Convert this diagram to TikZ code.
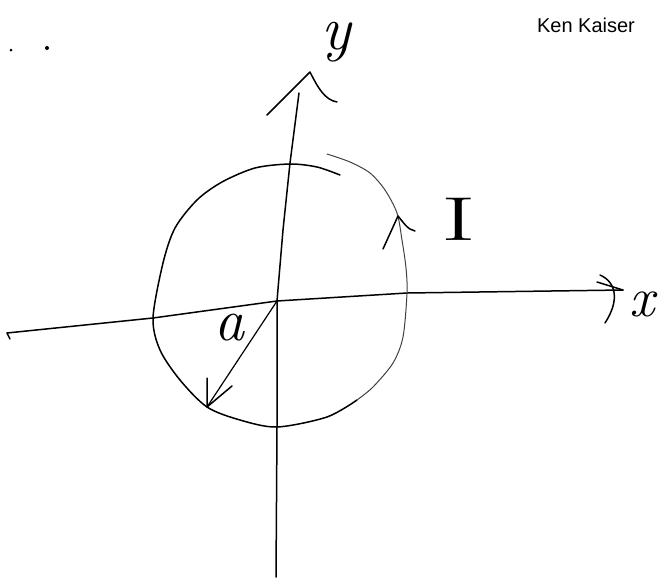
\documentclass[tikz,border=0pt]{standalone}
\usepackage{fontspec}
\newfontfamily\authorfont{Liberation Sans}
\usetikzlibrary{calc}
\begin{document}
\begin{tikzpicture}[x=1pt,y=-1pt,
  ink/.style={line width=1.5pt,line cap=round,line join=round},
  faint/.style={line width=1.0pt,line cap=round,line join=round,black!75},
  hand/.style={inner sep=0pt,outer sep=0pt},
  speck/.style={circle,fill=black,inner sep=0pt,minimum size=#1}]
\useasboundingbox (0,0) rectangle (662,584);
% key points
\coordinate (O) at (277,301);
\coordinate (xL) at (7,333);
\coordinate (xR) at (623,290);
\coordinate (yB) at (276,577);
\coordinate (yT) at (299,93);
\coordinate (yA) at (310,72);
\coordinate (P) at (207,407);
\coordinate (Itip) at (398,216);
% axes
\draw[ink] (xL) -- (153,318) -- (O) -- (407,293) -- (xR);
\draw[ink] (xL) -- (10,339);
\draw[ink] (yB) -- (277,427) -- (O) -- (283,230) -- (290,163) -- (yT);
% axis arrowheads
\draw[ink] (600,275) .. controls (616,282) and (620,300) .. (605,323);
\draw[ink] (597,282) -- (xR);
\draw[ink] (267,115) -- (yA) .. controls (318,88) and (325,100) .. (337,102);
% circle (dark part)
\draw[ink] plot[smooth] coordinates {(340,175) (317,167) (290,164) (255,168) (222,182) (197,200) (175,228) (163,263) (153,318) (160,350) (180,380) (207,407) (240,420) (277,427) (327,417) (357,400)};
% circle (faint right part)
\draw[faint] plot[smooth] coordinates {(357,400) (373,387) (393,363) (403,337) (407,293) (406,268) (402,240) (397,213) (385,190) (370,173) (350,162) (327,154)};
% current arrow on the circle
\draw[ink] (383,249) -- (Itip) .. controls (403,222) and (408,230) .. (415,231);
% radius arrow
\draw[line width=1.2pt,line cap=round] (O) -- (P);
\draw[ink] (207,378) -- (P) -- (232,386);
% labels
\node[hand] (ylab) at (336,42) {\fontsize{62}{62}\selectfont\itshape y};
\node[hand] (xlab) at (642,304) {\fontsize{56}{56}\selectfont\itshape x};
\node[hand] (alab) at (229,328) {\fontsize{60}{60}\selectfont\itshape a};
\node[hand] (Ilab) at (459,219) {\scalebox{1.7}[1]{\fontsize{62}{62}\selectfont I}};
\node[hand] (author) at (586,25) {\authorfont\fontsize{20}{24}\selectfont Ken Kaiser};
% specks
\node[speck=3pt] (d1) at (11,50) {};
\node[speck=4pt] (d2) at (47,48) {};
\end{tikzpicture}
\end{document}
